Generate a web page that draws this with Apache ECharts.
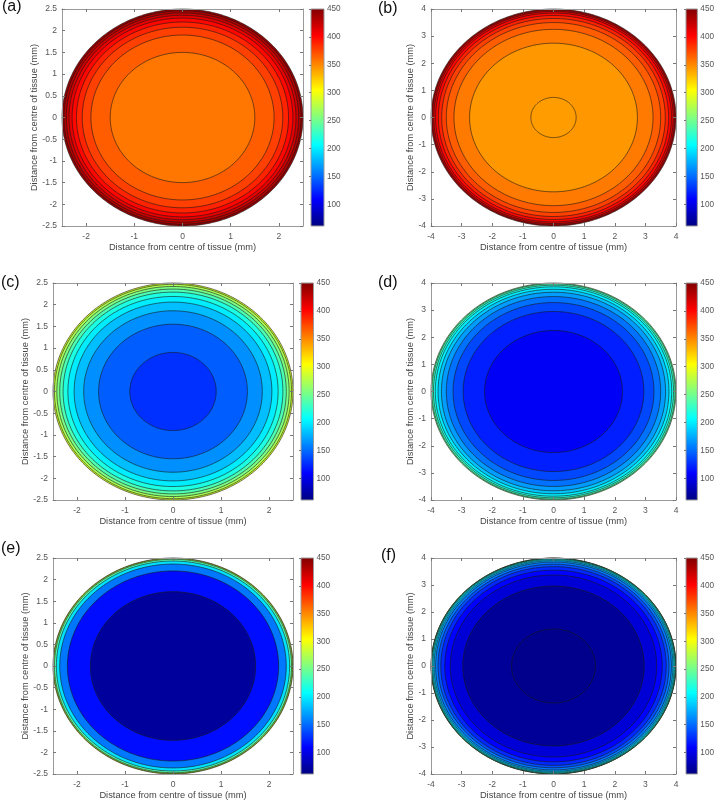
<!DOCTYPE html>
<html><head><meta charset="utf-8">
<script src="https://cdn.jsdelivr.net/npm/echarts@6/dist/echarts.min.js"></script>
<style>html,body{margin:0;padding:0;background:#fff}#c{width:717px;height:803px}</style>
</head><body><div id="c"></div>
<script>
// ---------- data ----------
const panelLabels = ['(a)', '(b)', '(c)', '(d)', '(e)', '(f)'];
const axisLimits = [2.5, 4, 2.5, 4, 2.5, 4];
const axisTitle = 'Distance from centre of tissue (mm)';

// contour band outer radii (mm, inner -> outer) and band values
const ringRadiiA = [1.50, 1.90, 2.08, 2.20, 2.29, 2.355, 2.41, 2.46, 2.5];
const ringValuesA = [356, 366, 377, 388, 399, 410, 421, 432, 443];
const ringRadiiB = [0.74, 2.74, 3.25, 3.50, 3.65, 3.76, 3.85, 3.91, 3.96, 4.0];
const ringValuesB = [342, 344, 355, 366, 377, 389, 400, 411, 422, 434];
const ringRadiiC = [0.90, 1.55, 1.86, 2.06, 2.19, 2.29, 2.36, 2.42, 2.47, 2.5];
const ringValuesC = [128, 145, 164, 182, 200, 218, 236, 254, 272, 290];
const ringRadiiD = [2.25, 2.95, 3.28, 3.50, 3.66, 3.77, 3.86, 3.92, 3.97, 4.0];
const ringValuesD = [106, 121, 137, 153, 169, 185, 201, 217, 233, 249];
const ringRadiiE = [1.72, 2.20, 2.36, 2.43, 2.47, 2.49, 2.5];
const ringValuesE = [72, 114, 155, 196, 236, 270, 300];
const ringRadiiF = [1.37, 2.96, 3.37, 3.55, 3.68, 3.77, 3.85, 3.90, 3.94, 3.97, 3.98, 3.99, 3.995, 4.0];
const ringValuesF = [66, 70, 94, 110, 125, 140, 155, 172, 190, 210, 225, 240, 255, 270];

const ticksSmallX = [-2, -1, 0, 1, 2];
const ticksSmallY = [-2.5, -2, -1.5, -1, -0.5, 0, 0.5, 1, 1.5, 2, 2.5];
const ticksLarge = [-4, -3, -2, -1, 0, 1, 2, 3, 4];
const colorbarTicks = [100, 150, 200, 250, 300, 350, 400, 450];
const colorMin = 61, colorMax = 450;
const jetColors = ['#000080', '#0000ff', '#0080ff', '#00ffff', '#80ff80', '#ffff00', '#ff8000', '#ff0000', '#800000'];

// ---------- layout ----------
const FONT = 'Liberation Sans, Arial, Helvetica, sans-serif';
const layouts = [
  { plot: [62, 9, 241, 217], bar: [311, 9, 13, 217], yGap: 22, label: [2, 8] },
  { plot: [431, 9, 245, 217], bar: [686, 9, 13, 217], yGap: 15, label: [378, 10] },
  { plot: [53, 283, 240, 217], bar: [301, 283, 12.5, 217], yGap: 23, label: [1, 284] },
  { plot: [431, 283, 245, 217], bar: [686, 283, 13, 217], yGap: 15, label: [378, 284] },
  { plot: [53, 558, 240, 216], bar: [301, 558, 12.5, 216], yGap: 23, label: [1, 550] },
  { plot: [431, 558, 245, 216], bar: [686, 558, 13, 216], yGap: 15, label: [381, 557] }
];
const ringSets = [
  [ringRadiiA, ringValuesA], [ringRadiiB, ringValuesB], [ringRadiiC, ringValuesC],
  [ringRadiiD, ringValuesD], [ringRadiiE, ringValuesE], [ringRadiiF, ringValuesF]
];

const chart = echarts.init(document.getElementById('c'), null, { renderer: 'canvas' });

const grid = [], xAxis = [], yAxis = [], series = [];
const AXIS_COLOR = '#9a9a9a', TICK_COLOR = '#777', LABEL_COLOR = '#555', TITLE_COLOR = '#444';

layouts.forEach((L) => {
  const [l, t, w, h] = L.plot;
  grid.push({ left: l, top: t, width: w, height: h });
});
layouts.forEach((L) => {
  const [l, t, w, h] = L.bar;
  grid.push({ left: l, top: t, width: w, height: h });
});

layouts.forEach((L, i) => {
  const lim = axisLimits[i];
  const xt = lim === 4 ? ticksLarge : ticksSmallX;
  const yt = lim === 4 ? ticksLarge : ticksSmallY;
  ['bottom', 'top'].forEach(pos => {
    xAxis.push({
      type: 'value', gridIndex: i, min: -lim, max: lim, position: pos, z: 5,
      axisLine: { show: true, onZero: false, lineStyle: { color: AXIS_COLOR, width: 1 } },
      axisTick: { show: true, inside: true, length: 3, customValues: xt, lineStyle: { color: TICK_COLOR } },
      axisLabel: { show: pos === 'bottom', customValues: xt, fontSize: 8.5, color: LABEL_COLOR, margin: 6, fontFamily: FONT },
      splitLine: { show: false },
      name: pos === 'bottom' ? axisTitle : '', nameLocation: 'middle', nameGap: 17,
      nameTextStyle: { fontSize: 9.3, color: TITLE_COLOR, fontFamily: FONT }
    });
  });
  ['left', 'right'].forEach(pos => {
    yAxis.push({
      type: 'value', gridIndex: i, min: -lim, max: lim, position: pos, z: 5,
      axisLine: { show: true, onZero: false, lineStyle: { color: AXIS_COLOR, width: 1 } },
      axisTick: { show: true, inside: true, length: 3, customValues: yt, lineStyle: { color: TICK_COLOR } },
      axisLabel: { show: pos === 'left', customValues: yt, fontSize: 8.5, color: LABEL_COLOR, margin: 5, fontFamily: FONT },
      splitLine: { show: false },
      name: pos === 'left' ? axisTitle : '', nameLocation: 'middle', nameGap: L.yGap, nameRotate: 90,
      nameTextStyle: { fontSize: 9.3, color: TITLE_COLOR, fontFamily: FONT }
    });
  });
});

// colorbar axes
layouts.forEach((L, i) => {
  xAxis.push({ type: 'value', gridIndex: 6 + i, min: 0, max: 1, show: false });
  yAxis.push({
    type: 'value', gridIndex: 6 + i, min: colorMin, max: colorMax, position: 'right', z: 5,
    axisLine: { show: false },
    axisTick: { show: true, inside: true, length: 2, customValues: colorbarTicks, lineStyle: { color: TICK_COLOR } },
    axisLabel: { customValues: colorbarTicks, fontSize: 8.2, color: LABEL_COLOR, margin: 3, fontFamily: FONT },
    splitLine: { show: false }
  });
});

// contour fills (outermost first)
ringSets.forEach(([radii, vals], i) => {
  const data = radii.map((r, k) => [r, vals[k]]).reverse();
  series.push({
    type: 'custom', xAxisIndex: 2 * i, yAxisIndex: 2 * i, silent: true,
    data: data,
    renderItem: function (params, api) {
      const r = api.value(0);
      const pts = [];
      const N = 200;
      for (let k = 0; k < N; k++) {
        const a = k / N * 2 * Math.PI;
        pts.push(api.coord([r * Math.cos(a), r * Math.sin(a)]));
      }
      return {
        type: 'polygon', shape: { points: pts },
        style: { fill: api.visual('color'), stroke: '#1a1a1a', lineWidth: 0.6 }
      };
    }
  });
});

// colorbars
const gradStops = jetColors.map((c, k) => ({ offset: k / (jetColors.length - 1), color: c }));
layouts.forEach((L, i) => {
  series.push({
    type: 'custom', xAxisIndex: 12 + i, yAxisIndex: 12 + i, silent: true,
    data: [[0, colorMin, 1, colorMax]],
    renderItem: function (params, api) {
      const p1 = api.coord([api.value(0), api.value(3)]);
      const p2 = api.coord([api.value(2), api.value(1)]);
      return {
        type: 'rect',
        shape: { x: p1[0], y: p1[1], width: p2[0] - p1[0], height: p2[1] - p1[1] },
        style: { fill: new echarts.graphic.LinearGradient(0, 1, 0, 0, gradStops), stroke: AXIS_COLOR, lineWidth: 1 }
      };
    }
  });
});

chart.setOption({
  animation: false,
  backgroundColor: '#fff',
  grid, xAxis, yAxis, series,
  visualMap: {
    type: 'continuous', show: false, seriesIndex: [0, 1, 2, 3, 4, 5], dimension: 1,
    min: colorMin, max: colorMax, inRange: { color: jetColors }
  },
  graphic: panelLabels.map((t, i) => ({
    type: 'text', left: layouts[i].label[0], top: layouts[i].label[1] - 9,
    style: { text: t, font: '16px ' + FONT, fill: '#111' }
  }))
});
</script>
</body></html>
